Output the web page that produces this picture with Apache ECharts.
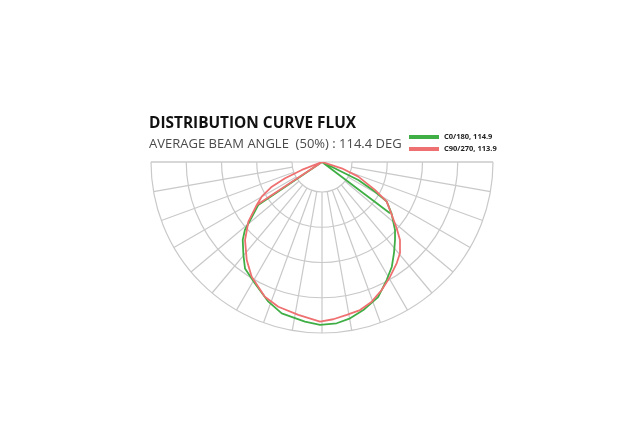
<!DOCTYPE html>
<html>
<head>
<meta charset="utf-8">
<script src="https://cdn.jsdelivr.net/npm/echarts@6/dist/echarts.min.js"></script>
<style>
html,body{margin:0;padding:0;background:#fff;}
#chart{width:640px;height:445px;}
</style>
</head>
<body>
<div id="chart"></div>
<script>
// Relative intensity (% of outer ring) at angle (deg, 0 = right horizontal, 90 = straight down, 180 = left)
const greenName = 'C0/180, 114.9';
const greenAngles = [0, 26.4, 29.3, 31.5, 36.4, 43.0, 46.9, 51.6, 56.3, 61.3, 67.3, 74.4, 79.8, 84.8, 90.7, 96.1, 104.9, 111.0, 118.9, 125.9, 130.2, 135.5, 138.6, 146.0, 180, 37.0];
const greenValues = [0, 23.7, 35.6, 44.4, 50.5, 58.4, 62.5, 67.8, 73.6, 78.7, 85.4, 89.9, 92.9, 94.7, 95.3, 93.9, 91.6, 87.5, 81.1, 76.8, 71.2, 65.0, 60.1, 45.0, 0, 49.8];

const redName = 'C90/270, 113.9';
const redAngles = [0, 17.7, 22.0, 27.8, 31.5, 37.2, 41.6, 45.0, 49.4, 53.5, 59.3, 65.0, 70.4, 75.6, 80.8, 85.9, 90.7, 98.8, 106.8, 113.0, 121.5, 127.5, 134.6, 141.0, 146.6, 150.1, 153.8, 156.2, 158.5, 180, 146.6];
const redValues = [0, 12.1, 22.9, 35.0, 44.4, 51.2, 58.4, 64.5, 70.1, 73.5, 78.0, 82.6, 86.7, 89.4, 90.6, 92.2, 93.4, 90.5, 88.4, 85.6, 78.7, 72.3, 64.1, 55.4, 45.7, 40.7, 32.7, 23.6, 12.7, 0, 45.7];

const titleText = 'DISTRIBUTION CURVE FLUX';
const subText = 'AVERAGE BEAM ANGLE  (50%) : 114.4 DEG';

const gridColor = '#c9c9c9';
const greenColor = '#3fae45';
const redColor = '#ef7070';

function zip(angles, values){ return angles.map((a,i)=>[values[i], a]); }

const chart = echarts.init(document.getElementById('chart'), null, {renderer:'canvas'});
chart.setOption({
  backgroundColor:'#fff',
  animation:false,
  title:[
    {text:titleText, left:149, top:116, padding:0,
     textStyle:{fontFamily:'Open Sans', fontWeight:'bold', fontSize:15.4, color:'#111'}},
    {text:subText, left:149, top:138, padding:0,
     textStyle:{fontFamily:'Open Sans', fontWeight:'normal', fontSize:13, color:'#4a4a4a'}}
  ],
  legend:{
    orient:'vertical', left:409, top:133, padding:0,
    itemWidth:30, itemHeight:4, itemGap:4, icon:'rect',
    textStyle:{fontFamily:'Open Sans', fontWeight:'bold', fontSize:7.5, color:'#222'},
    data:[greenName, redName]
  },
  polar:[
    {center:[322,162], radius:[30,171]},
    {center:[322,162], radius:[0,171]}
  ],
  angleAxis:[
    {polarIndex:0, type:'value', min:0, max:180, interval:10, startAngle:0, endAngle:-180, clockwise:true,
     axisLine:{show:false},
     axisTick:{show:false}, axisLabel:{show:false},
     splitLine:{show:true, lineStyle:{color:gridColor, width:1.2}}},
    {polarIndex:1, type:'value', min:0, max:180, interval:180, startAngle:0, endAngle:-180, clockwise:true,
     axisLine:{show:false}, axisTick:{show:false}, axisLabel:{show:false},
     splitLine:{show:true, lineStyle:{color:gridColor, width:1.2}}}
  ],
  radiusAxis:[
    {polarIndex:0, type:'value', min:0, max:4, interval:1,
     axisLine:{show:false}, axisTick:{show:false}, axisLabel:{show:false},
     splitLine:{show:true, lineStyle:{color:gridColor, width:1.2}}},
    {polarIndex:1, type:'value', min:0, max:100,
     axisLine:{show:false}, axisTick:{show:false}, axisLabel:{show:false},
     splitLine:{show:false}}
  ],
  series:[
    {name:greenName, type:'line', coordinateSystem:'polar', polarIndex:1, symbol:'none',
     itemStyle:{color:greenColor}, lineStyle:{color:greenColor, width:1.8},
     data:zip(greenAngles, greenValues)},
    {name:redName, type:'line', coordinateSystem:'polar', polarIndex:1, symbol:'none',
     itemStyle:{color:redColor}, lineStyle:{color:redColor, width:1.8},
     data:zip(redAngles, redValues)}
  ]
});
</script>
</body>
</html>
